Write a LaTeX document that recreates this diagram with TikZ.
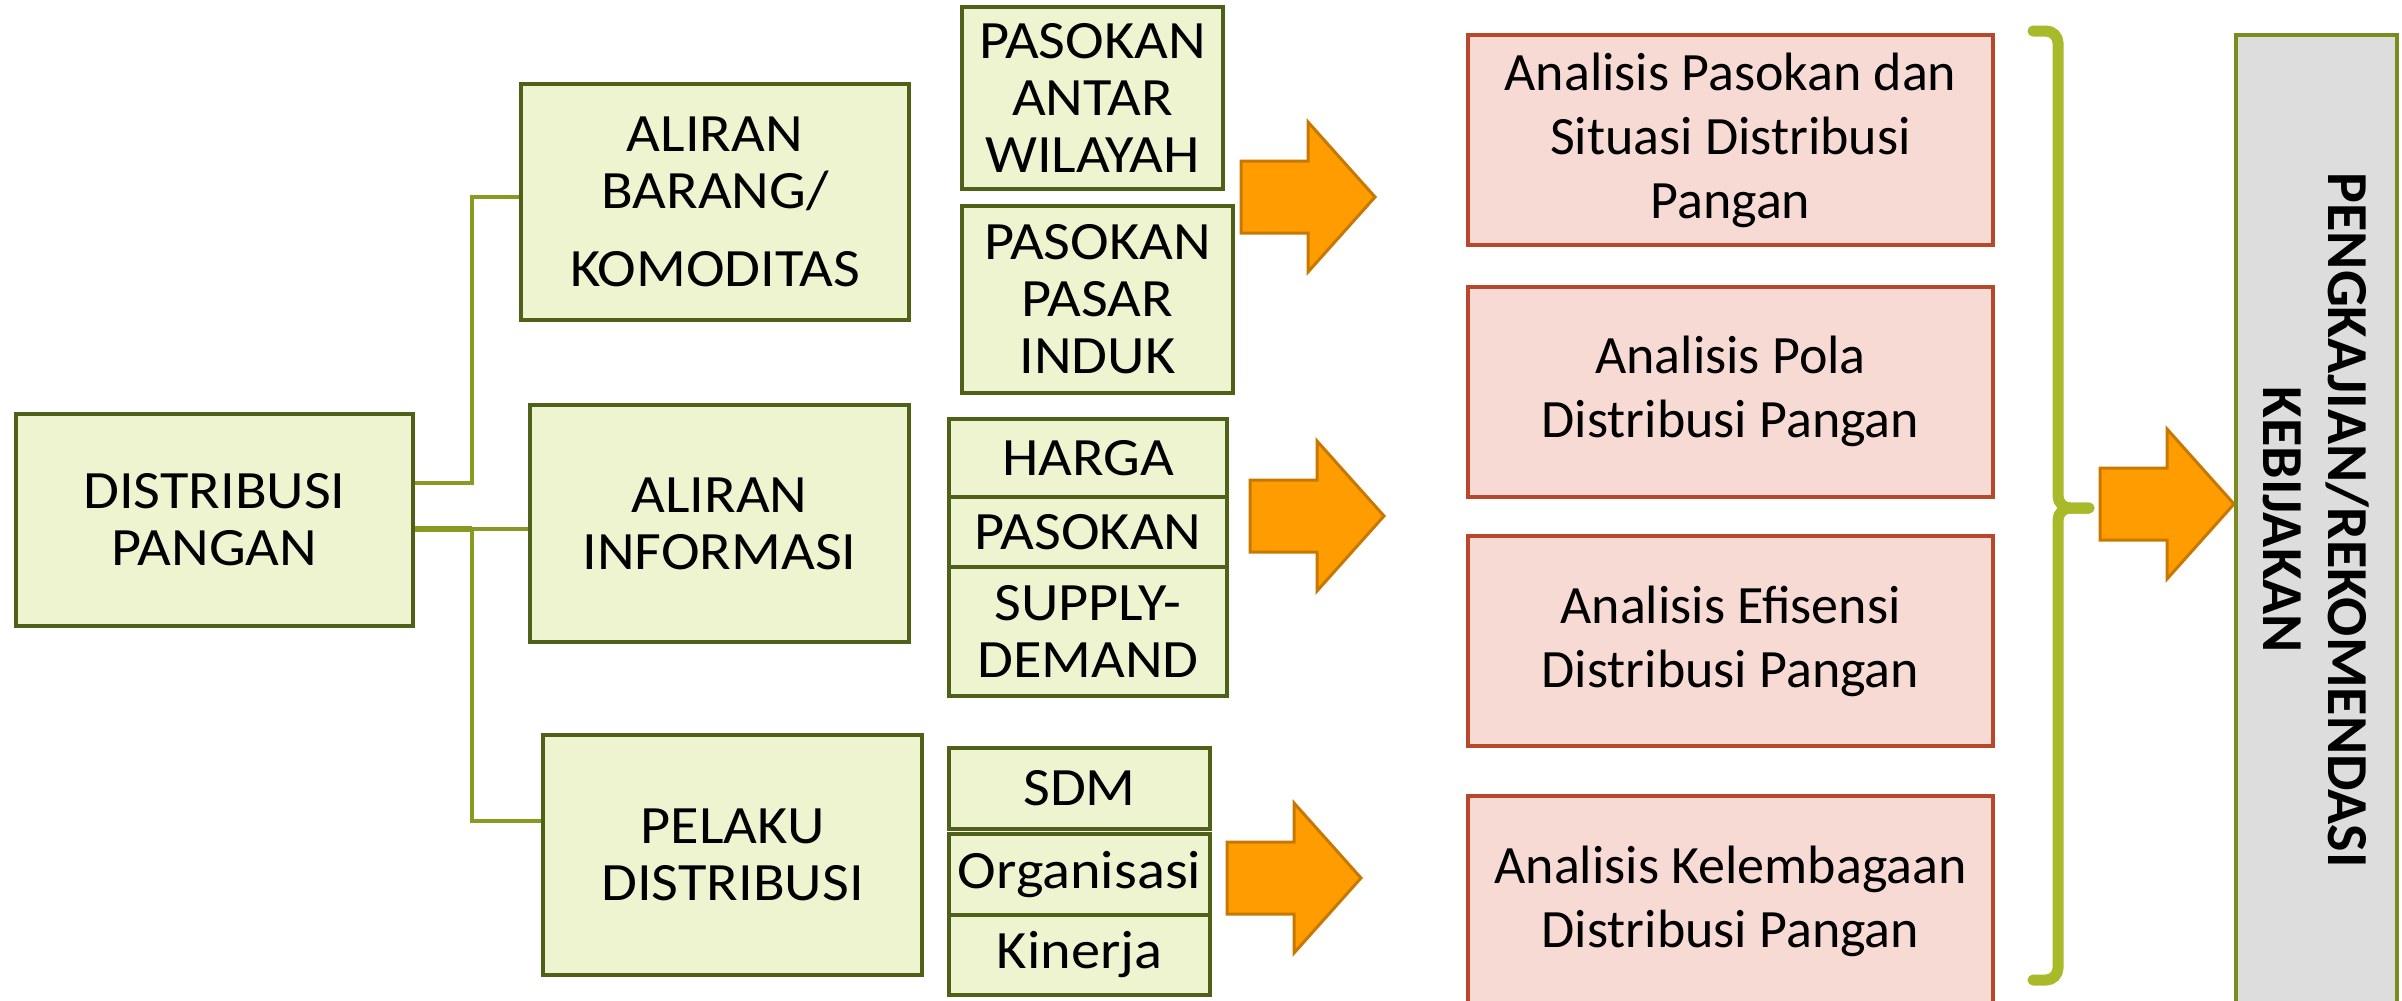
\documentclass[tikz,border=0pt]{standalone}
\usepackage{fontspec}
\setmainfont{Carlito}
\newfontfamily\greenfont[FakeStretch=1.08]{Carlito}
\definecolor{gfill}{RGB}{239,244,208}
\definecolor{gdraw}{RGB}{79,97,24}
\definecolor{conn}{RGB}{137,153,33}
\definecolor{pfill}{RGB}{248,218,212}
\definecolor{pdraw}{RGB}{183,72,44}
\definecolor{ofill}{RGB}{255,156,0}
\definecolor{odraw}{RGB}{200,120,0}
\definecolor{brc}{RGB}{168,186,42}
\definecolor{gyfill}{RGB}{221,221,221}
\definecolor{gydraw}{RGB}{122,140,30}
\tikzset{
 gbox/.style={draw=gdraw, fill=gfill, line width=4pt, inner sep=0pt, align=center, font=\greenfont\fontsize{54}{57}\selectfont},
 pbox/.style={draw=pdraw, fill=pfill, line width=4pt, inner sep=0pt, align=center, minimum width=525pt, minimum height=210pt, font=\fontsize{54}{64}\selectfont},
 conline/.style={draw=conn, line width=4pt},
 conthick/.style={draw=conn, line width=6pt},
 barrow/.style={draw=odraw, fill=ofill, line width=3pt, line join=miter},
 bracestyle/.style={draw=brc, line width=11pt, line cap=round},
 greybox/.style={draw=gydraw, fill=gyfill, line width=4pt, inner sep=0pt},
}
\newcommand{\blockarrow}[3]{%
 \coordinate (#1) at (#2,#3);
 \draw[barrow] (#2,#3-36) -- ++(67,0) -- ++(0,-39) -- ++(67,75) -- ++(-67,75) -- ++(0,-39) -- ++(-67,0) -- cycle;}
\begin{document}
\begin{tikzpicture}[x=1pt,y=-1pt]
\useasboundingbox (0,0) rectangle (2402,1001);
\clip (0,0) rectangle (2402,1001);
\fill[white] (0,0) rectangle (2402,1001);

% junction coordinates
\coordinate (j0) at (472,197);
\coordinate (j1) at (472,483);
\coordinate (j2) at (472,529);
\coordinate (j3) at (472,821);

% main green boxes
\node[gbox, minimum width=397pt, minimum height=212pt] (dp) at (214.5,520) {DISTRIBUSI\\PANGAN};
\node[gbox, minimum width=388pt, minimum height=236pt] (ab) at (715,202) {ALIRAN\\BARANG/\\[21pt]KOMODITAS};
\node[gbox, minimum width=379pt, minimum height=237pt] (ai) at (719.5,523.5) {ALIRAN\\INFORMASI};
\node[gbox, minimum width=379pt, minimum height=240pt] (pd) at (732.5,855) {PELAKU\\DISTRIBUSI};

% connectors
\draw[conline] (dp.east |- j1) -- (j1) -- (j0) -- (j0 -| ab.west);
\draw[conthick] (dp.east |- j2) -- (j2);
\draw[conline] (j2) -- (j2 -| ai.west);
\draw[conline] (j2) -- (j3) -- (j3 -| pd.west);

% sub boxes
\node[gbox, minimum width=261pt, minimum height=182pt] (paw) at (1092.5,98) {PASOKAN\\ANTAR\\WILAYAH};
\node[gbox, minimum width=271pt, minimum height=187pt] (ppi) at (1097.5,299.5) {PASOKAN\\PASAR\\INDUK};
\node[gbox, minimum width=278pt, minimum height=78pt] (hg) at (1088,458) {HARGA};
\node[gbox, minimum width=278pt, minimum height=70pt] (ps) at (1088,532) {PASOKAN};
\node[gbox, minimum width=278pt, minimum height=129pt] (sd) at (1088,631.5) {SUPPLY-\\DEMAND};
\node[gbox, minimum width=261pt, minimum height=81pt] (sdm) at (1079.5,788.5) {SDM};
\node[gbox, minimum width=261pt, minimum height=81pt] (org) at (1079.5,874.5) {Organisasi};
\node[gbox, minimum width=261pt, minimum height=80pt] (kin) at (1079.5,955) {Kinerja};

% block arrows
\blockarrow{ar1}{1241}{197}
\blockarrow{ar2}{1250}{516}
\blockarrow{ar3}{1227}{878}

% analysis boxes
\node[pbox] (a1) at (1730.5,140) {Analisis Pasokan dan\\Situasi Distribusi\\Pangan};
\node[pbox] (a2) at (1730.5,391.5) {Analisis Pola\\Distribusi Pangan};
\node[pbox] (a3) at (1730.5,641) {Analisis Efisensi\\Distribusi Pangan};
\node[pbox] (a4) at (1730.5,901) {Analisis Kelembagaan\\Distribusi Pangan};

% brace
\draw[bracestyle] (2033,31) -- (2046,31) to[out=0,in=90] (2058,43) -- (2058,496) to[out=-90,in=180] (2070,508) -- (2089,508);
\draw[bracestyle] (2089,508) -- (2070,508) to[out=180,in=90] (2058,520) -- (2058,968) to[out=-90,in=0] (2046,980) -- (2033,980);

\blockarrow{ar4}{2100}{504}

% result box
\node[greybox, minimum width=161pt, minimum height=985pt] (gb) at (2316.5,527.5) {};
\node[rotate=-90, align=center, inner sep=0pt, font=\bfseries\fontsize{58}{65}\selectfont] (rk) at (2316,520) {PENGKAJIAN/REKOMENDASI\\KEBIJAKAN};
\end{tikzpicture}
\end{document}
